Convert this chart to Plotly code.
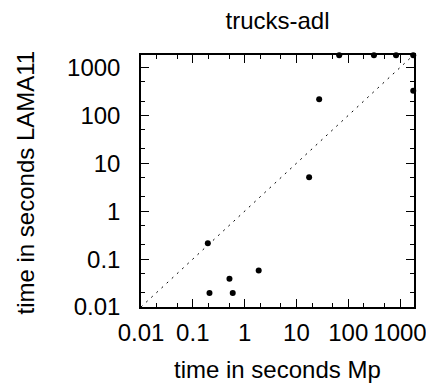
import plotly.graph_objects as go

# Data (seconds)
time_mp = [67, 314, 838, 1800, 1800, 27.5, 17.6, 0.195, 1.87, 0.51, 0.21, 0.59]
time_lama11 = [1800, 1800, 1800, 1800, 327, 219, 5.1, 0.215, 0.058, 0.039, 0.0195, 0.0195]
diag = [0.01, 1800]
tick_vals = [0.01, 0.1, 1, 10, 100, 1000]
tick_text = ["0.01", "0.1", "1", "10", "100", "1000"]
minor_vals = [0.02, 0.05, 0.2, 0.5, 2, 5, 20, 50, 200, 500]
title_text = "trucks-adl"
x_title = "time in seconds Mp"
y_title = "time in seconds LAMA11"

FONT = "Liberation Sans, Arial, Helvetica, sans-serif"
FS = 24

fig = go.Figure()
fig.add_trace(go.Scatter(x=diag, y=diag, mode="lines",
                         line=dict(color="black", width=1, dash="2px,5px"),
                         hoverinfo="skip", showlegend=False))
fig.add_trace(go.Scatter(x=time_mp, y=time_lama11, mode="markers",
                         marker=dict(color="black", size=6),
                         cliponaxis=False, showlegend=False))

axis_common = dict(
    type="log", tickmode="array", tickvals=tick_vals, ticktext=tick_text,
    ticks="inside", ticklen=8, tickwidth=1, tickcolor="black",
    showline=True, linecolor="black", linewidth=1.5, mirror="allticks",
    showgrid=False, zeroline=False,
    tickfont=dict(family=FONT, size=FS, color="black"),
    minor=dict(ticks="inside", ticklen=4, tickwidth=1, tickcolor="black",
               tickmode="array", tickvals=minor_vals, showgrid=False),
)
fig.update_xaxes(range=[-2, 3.27], ticklabelstandoff=3, **axis_common)
fig.update_yaxes(range=[-2, 3.262], ticklabelstandoff=14, **axis_common)

# page body has an 8px margin, so the figure is 8px smaller and offset
W, H = 426, 382
fig.update_layout(
    width=W, height=H,
    margin=dict(l=133, r=20, t=47, b=83, autoexpand=False),
    paper_bgcolor="white", plot_bgcolor="white",
    font=dict(family=FONT, size=FS, color="black"),
    title=dict(text=title_text, x=0.5, xref="paper", xanchor="center",
               y=1 - 13 / H, yref="container", yanchor="middle",
               font=dict(family=FONT, size=FS, color="black")),
    annotations=[
        dict(text=x_title, xref="paper", yref="paper", x=0.5, y=-(369 - 307) / 252,
             xanchor="center", yanchor="middle", showarrow=False,
             font=dict(family=FONT, size=FS, color="black")),
        dict(text=y_title, xref="paper", yref="paper", x=-(141 - 25) / 273,
             y=0.5 - 1.5 / 252,
             xanchor="center", yanchor="middle", textangle=-90, showarrow=False,
             font=dict(family=FONT, size=FS, color="black")),
    ],
)

fig.write_html("out.html")
